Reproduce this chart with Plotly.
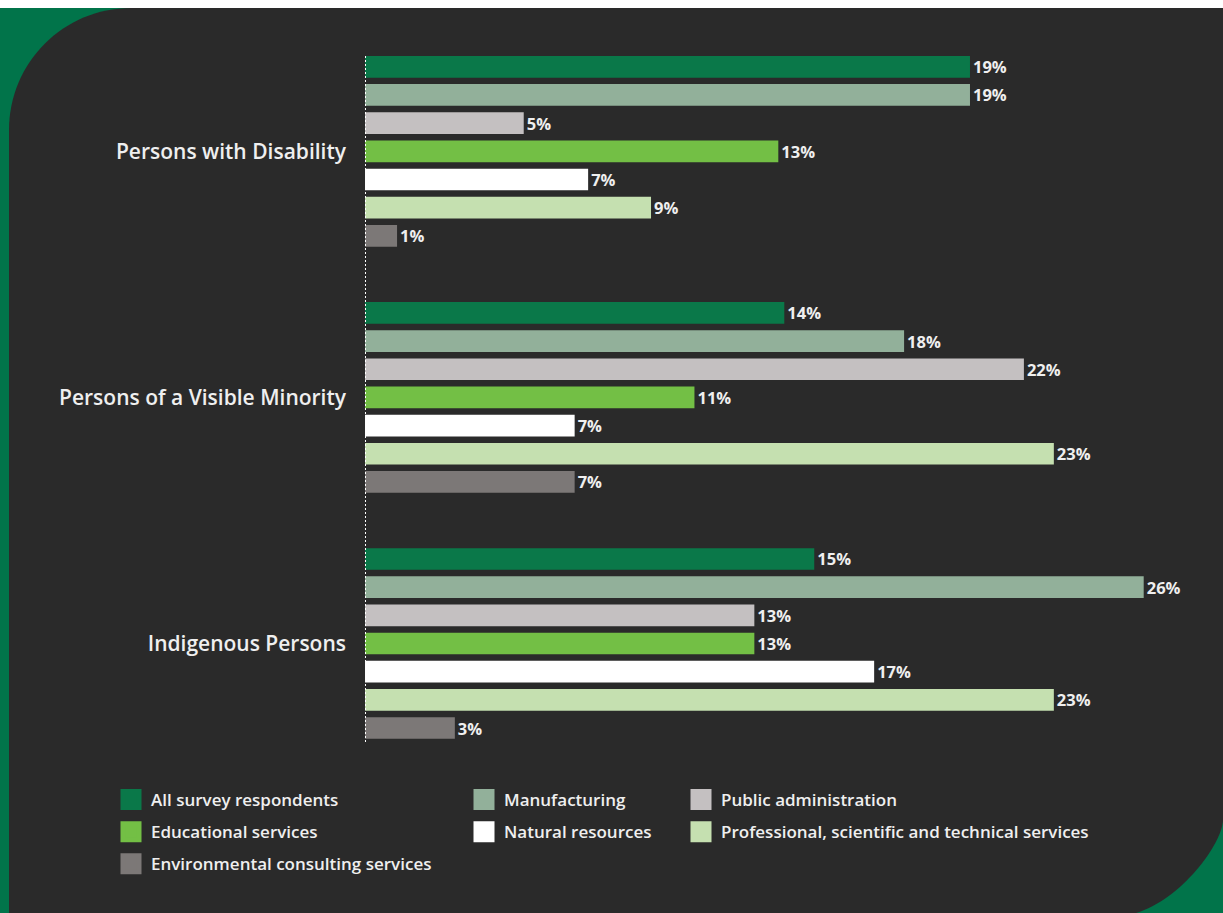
import plotly.graph_objects as go

# ---------------- data ----------------
groups = ["Persons with Disability", "Persons of a Visible Minority", "Indigenous Persons"]

series_names = [
    "All survey respondents",
    "Manufacturing",
    "Public administration",
    "Educational services",
    "Natural resources",
    "Professional, scientific and technical services",
    "Environmental consulting services",
]

# bar lengths (in % units of the axis)
all_survey = [20.2, 14.0, 15.0]
manufacturing = [20.2, 18.0, 26.0]
public_admin = [5.3, 22.0, 13.0]
educational = [13.8, 11.0, 13.0]
natural_res = [7.45, 7.0, 17.0]
professional = [9.55, 23.0, 23.0]
environmental = [1.07, 7.0, 3.0]

# printed labels
all_survey_lbl = ["19%", "14%", "15%"]
manufacturing_lbl = ["19%", "18%", "26%"]
public_admin_lbl = ["5%", "22%", "13%"]
educational_lbl = ["13%", "11%", "13%"]
natural_res_lbl = ["7%", "7%", "17%"]
professional_lbl = ["9%", "23%", "23%"]
environmental_lbl = ["1%", "7%", "3%"]

values = [all_survey, manufacturing, public_admin, educational, natural_res, professional, environmental]
labels = [all_survey_lbl, manufacturing_lbl, public_admin_lbl, educational_lbl,
          natural_res_lbl, professional_lbl, environmental_lbl]

colors = ["#0a7849", "#92b09a", "#c4c0c1", "#73bf45", "#ffffff", "#c5e0b0", "#7c7877"]
legend_of = ["legend", "legend2", "legend3", "legend", "legend2", "legend3", "legend"]

# ---------------- figure ----------------
W, H = 1223, 913
FONT = "Open Sans"
TXT = "#efefef"

def px(x):
    return x / W

def py(y):
    return 1 - y / H

fig = go.Figure()
for name, v, lb, c in zip(series_names, values, labels, colors):
    fig.add_trace(go.Bar(
        y=groups, x=v, orientation="h", name=name,
        marker=dict(color=c, line=dict(width=0)),
        text=lb, textposition="outside", cliponaxis=False, constraintext="none",
        textfont=dict(family=FONT, size=16.5, color=TXT, weight="bold"),
        showlegend=False, hoverinfo="skip",
    ))

for name, c, lg in zip(series_names, colors, legend_of):
    fig.add_trace(go.Scatter(
        x=[None], y=[None], mode="markers", name=name, legend=lg, legendgroup=name,
        marker=dict(symbol="square", size=24, color=c, line=dict(width=5, color=c)),
        showlegend=True,
    ))

# background shapes
R1 = 122
k = 0.5523
dark_path = (
    f"M {px(9)},{py(913)} "
    f"L {px(9)},{py(8 + R1)} "
    f"C {px(9)},{py(8 + R1 - k * R1)} {px(9 + R1 - k * R1)},{py(8)} {px(9 + R1)},{py(8)} "
    f"L {px(1223)},{py(8)} "
    f"L {px(1223)},{py(820)} "
    f"C {px(1222)},{py(845)} {px(1180)},{py(900)} {px(1136)},{py(913)} Z"
)

shapes = [
    dict(type="rect", xref="paper", yref="paper", x0=0, x1=1, y0=0, y1=py(8),
         fillcolor="#01744a", line=dict(width=0), layer="below"),
    dict(type="path", xref="paper", yref="paper", path=dark_path,
         fillcolor="#2a2a2a", line=dict(width=0), layer="below"),
    dict(type="line", xref="x", yref="paper", x0=0, x1=0, y0=py(742), y1=py(54),
         line=dict(color="#ffffff", width=2, dash="2px,2px"), layer="above"),
]

legend_common = dict(
    orientation="v", xanchor="left", yanchor="top", bgcolor="rgba(0,0,0,0)",
    font=dict(family=FONT, size=17, color=TXT, weight=600),
    tracegroupgap=7, itemclick=False, itemdoubleclick=False,
)

fig.update_layout(
    width=W, height=H,
    margin=dict(l=0, r=0, t=0, b=0),
    paper_bgcolor="#ffffff",
    plot_bgcolor="rgba(0,0,0,0)",
    barmode="group",
    bargap=0.1987,
    bargroupgap=0.23,
    shapes=shapes,
    xaxis=dict(domain=[px(365), 1], range=[0, 858 / 29.95], visible=False,
               showgrid=False, zeroline=False, fixedrange=True),
    yaxis=dict(domain=[py(766.55), py(28.25)], type="category",
               categoryorder="array", categoryarray=groups,
               range=[2.5, -0.5], showgrid=False, zeroline=False, showline=False,
               ticks="", ticklabelstandoff=18,
               tickfont=dict(family=FONT, size=21, color=TXT, weight=600),
               fixedrange=True),
    legend=dict(x=px(111), y=py(782), **legend_common),
    legend2=dict(x=px(464), y=py(782), **legend_common),
    legend3=dict(x=px(681), y=py(782), **legend_common),
    showlegend=True,
)

fig.write_html("out.html", config={"displayModeBar": False},
               post_script="document.body.style.margin='0px';")
